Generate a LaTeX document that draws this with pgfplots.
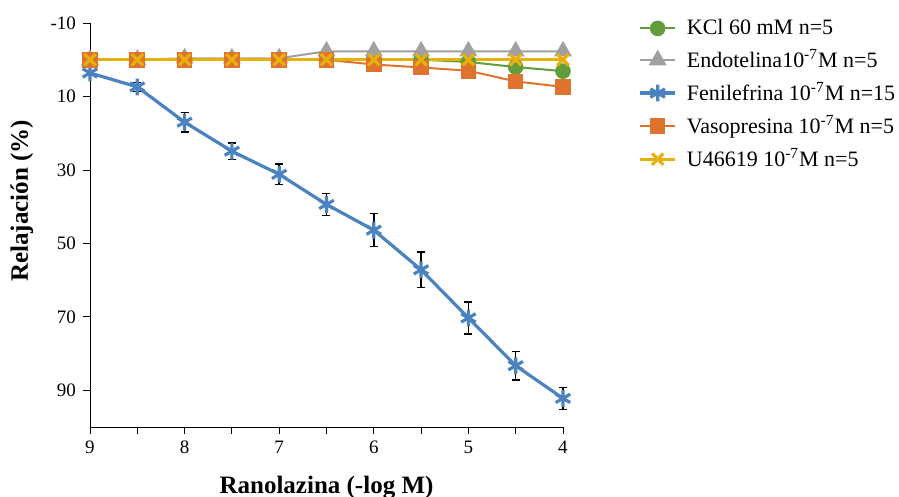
\documentclass[border=0pt]{standalone}
\usepackage{fontspec}
\setmainfont{Liberation Serif}
\usepackage{pgfplots}
\pgfplotsset{compat=1.18}

\definecolor{cKCl}{RGB}{98,157,60}
\definecolor{cEndo}{RGB}{160,160,160}
\definecolor{cFen}{RGB}{74,131,192}
\definecolor{cVaso}{RGB}{222,115,45}
\definecolor{cU}{RGB}{232,176,10}

\begin{document}
\begin{tikzpicture}
% page frame, as in the reference (axis south west sits at the origin)
\path[use as bounding box] (-45pt,-35pt) rectangle (404.5pt,213.5pt);
\begin{axis}[
  scale only axis,
  width=236.5pt, height=202pt,
  x dir=reverse, y dir=reverse,
  xmin=4, xmax=9, ymin=-10, ymax=100,
  xtick={4,4.5,...,9},
  xticklabels={4,,5,,6,,7,,8,,9},
  ytick={-10,10,30,50,70,90},
  axis lines*=left,
  tick align=outside,
  tick style={black, thin},
  major tick length=3.5pt,
  every axis line/.style={black, line width=0.6pt},
  /pgf/number format/assume math mode=true,
  tick label style={font=\fontsize{9.5}{11}\selectfont},
  xlabel={\textbf{Ranolazina (-log M)}},
  ylabel={\textbf{Relajación (\%)}},
  label style={font=\fontsize{12.5}{14}\selectfont},
  xlabel style={at={(0.5,0)}, anchor=north, yshift=-21pt},
  ylabel style={at={(-0.144,0.56)}, anchor=center},
  legend style={draw=none, at={(1.146,1.03)}, anchor=north west,
    font=\fontsize{11}{13}\selectfont, row sep=2pt,
    legend cell align=left, fill=none},
  legend image code/.code={
    \draw[mark repeat=2,mark phase=2] plot coordinates {(0cm,0cm) (0.31cm,0cm) (0.62cm,0cm)};
    \path (0.62cm+3pt,0cm);},
  clip=false,
  error bars/error bar style={black, line width=0.8pt},
  error bars/error mark options={rotate=90, mark size=2pt, black, line width=0.8pt},
]
% KCl 60 mM
\addplot[cKCl, line width=1pt, mark=*, mark size=3.4pt,
  error bars/.cd, y dir=both, y explicit] coordinates {
  (9,0) +- (0,0.3) (8.5,0) +- (0,0.3) (8,0) +- (0,0.3) (7.5,0) +- (0,0.3)
  (7,0) +- (0,0.3) (6.5,0) +- (0,0.3) (6,0) +- (0,0.3) (5.5,0) +- (0,0.3)
  (5,0.6) +- (0,0.5) (4.5,2.0) +- (0,0.6) (4,3.1) +- (0,0.7)};
\addlegendentry{KCl 60 mM n=5}
% Endotelina
\addplot[cEndo, line width=1pt, mark=triangle*, mark size=4.2pt,
  error bars/.cd, y dir=both, y explicit,
  error bar style={cEndo!50!black}] coordinates {
  (9,0) +- (0,0.4) (8.5,0) +- (0,0.4) (8,-0.4) +- (0,0.4) (7.5,-0.4) +- (0,0.4)
  (7,-0.4) +- (0,0.4) (6.5,-2.3) +- (0,0.5) (6,-2.3) +- (0,0.5) (5.5,-2.3) +- (0,0.5)
  (5,-2.3) +- (0,0.5) (4.5,-2.3) +- (0,0.5) (4,-2.3) +- (0,0.5)};
\addlegendentry{Endotelina10\textsuperscript{-7}M n=5}
% Fenilefrina
\addplot[cFen, line width=1.6pt, mark=asterisk, mark size=4.2pt,
  mark options={line width=1.6pt},
  error bars/.cd, y dir=both, y explicit] coordinates {
  (9,3.6) +- (0,0.5) (8.5,7.4) +- (0,1.2) (8,17.0) +- (0,2.6) (7.5,24.9) +- (0,2.3)
  (7,31.2) +- (0,2.8) (6.5,39.4) +- (0,3.0) (6,46.4) +- (0,4.5) (5.5,57.2) +- (0,4.8)
  (5,70.3) +- (0,4.3) (4.5,83.3) +- (0,3.9) (4,92.2) +- (0,3.0)};
\addlegendentry{Fenilefrina 10\textsuperscript{-7}M n=15}
% Vasopresina
\addplot[cVaso, line width=1pt, mark=square*, mark size=3.4pt,
  error bars/.cd, y dir=both, y explicit] coordinates {
  (9,0) +- (0,1.2) (8.5,0) +- (0,1.2) (8,0) +- (0,1.2) (7.5,0) +- (0,1.2)
  (7,0) +- (0,1.2) (6.5,0) +- (0,1.3) (6,1.3) +- (0,1.4) (5.5,2.1) +- (0,1.4)
  (5,3.0) +- (0,1.5) (4.5,5.9) +- (0,1.5) (4,7.4) +- (0,1.6)};
\addlegendentry{Vasopresina 10\textsuperscript{-7}M n=5}
% U46619
\addplot[cU, line width=1.6pt, mark=x, mark size=4pt,
  mark options={line width=1.6pt}] coordinates {
  (9,0) (8.5,0) (8,0) (7.5,0) (7,0) (6.5,0) (6,0) (5.5,0) (5,0) (4.5,0) (4,0)};
\addlegendentry{U46619 10\textsuperscript{-7}M n=5}
\end{axis}
\end{tikzpicture}
\end{document}
